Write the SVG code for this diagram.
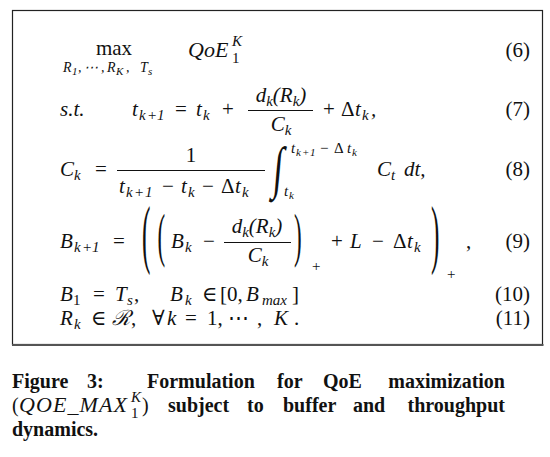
<svg xmlns="http://www.w3.org/2000/svg" width="550" height="457" viewBox="0 0 550 457">
<style>
text{fill:#111;font-family:"Liberation Serif","Times New Roman","DejaVu Serif",serif}
.i{font-style:italic;font-size:21px}
.r{font-size:21px}
.si{font-style:italic;font-size:15px}
.sr{font-size:15px}
.ti{font-style:italic;font-size:11px}
.tr{font-size:11px}
.cap{font-size:20px;font-weight:bold}
.capm{font-size:22px;font-style:italic}
.big{font-size:22px}
.mid{font-size:20px}
.int{font-size:32px}
.bar{stroke:#111;stroke-width:1}
</style>
<rect x="0" y="0" width="550" height="457" fill="#fff"/>
<g id="frame">
<rect x="12.5" y="10.5" width="530" height="334" fill="none" stroke="#222" stroke-width="1.2"/>
<line x1="12" y1="345" x2="543.5" y2="345" stroke="#555" stroke-width="2"/>
</g>
<g id="eq6">
<text class="r" x="114" y="55" text-anchor="middle">max</text>
<text class="si" y="72" style="font-size:14px"><tspan x="63">R</tspan><tspan class="tr" x="72" dy="3">1</tspan><tspan class="sr" x="78" dy="-3" style="font-size:14px">,</tspan><tspan class="sr" x="84" style="font-size:14px">⋯</tspan><tspan class="sr" x="101" style="font-size:14px">,</tspan><tspan x="107">R</tspan><tspan class="ti" x="116" dy="3">K</tspan><tspan class="sr" x="126" dy="-3" style="font-size:14px">,</tspan><tspan x="140">T</tspan><tspan class="ti" x="148" dy="3">s</tspan></text>
<text class="i" x="188" y="57" style="font-size:22px">QoE</text>
<text class="si" x="232" y="46">K</text>
<text class="sr" x="232" y="63">1</text>
<text class="r" x="530" y="57" text-anchor="end">(6)</text>
</g>
<g id="eq7">
<text class="i" x="60" y="116">s.t.</text>
<text class="i" x="132" y="116">t</text>
<text class="si" y="120"><tspan x="139">k</tspan><tspan class="sr" x="147">+</tspan><tspan class="sr" x="157">1</tspan></text>
<text class="r" x="175" y="116">=</text>
<text class="i" x="196" y="116">t</text>
<text class="si" x="203" y="120">k</text>
<text class="r" x="222" y="116">+</text>
<text class="i" x="281" y="102" text-anchor="middle">d<tspan class="si" dy="4">k</tspan><tspan class="r" dy="-4">(</tspan>R<tspan class="si" dy="4">k</tspan><tspan class="r" dy="-4">)</tspan></text>
<line class="bar" x1="248" y1="110.5" x2="313" y2="110.5"/>
<text class="i" x="281" y="131" text-anchor="middle">C<tspan class="si" dy="4">k</tspan></text>
<text class="r" x="323" y="116">+</text>
<text class="r" x="341" y="116">Δ</text>
<text class="i" x="355" y="116">t</text>
<text class="si" x="362" y="120">k</text>
<text class="i" x="371" y="116">,</text>
<text class="r" x="530" y="116" text-anchor="end">(7)</text>
</g>
<g id="eq8">
<text class="i" x="60" y="176">C</text>
<text class="si" x="74" y="180">k</text>
<text class="r" x="95" y="176">=</text>
<text class="r" x="191" y="162" text-anchor="middle">1</text>
<line class="bar" x1="117" y1="170.5" x2="265" y2="170.5"/>
<text class="i" x="119" y="193">t</text>
<text class="si" y="197"><tspan x="126">k</tspan><tspan class="sr" x="134">+</tspan><tspan class="sr" x="145">1</tspan></text>
<text class="r" x="162" y="193">−</text>
<text class="i" x="181" y="193">t</text>
<text class="si" x="188" y="197">k</text>
<text class="r" x="202" y="193">−</text>
<text class="r" x="221" y="193">Δ</text>
<text class="i" x="235" y="193">t</text>
<text class="si" x="242" y="197">k</text>
<text class="int" transform="translate(272,187) scale(1.1,1.8) skewX(-8)">∫</text>
<text class="si" x="291" y="153">t</text>
<text class="ti" y="156"><tspan x="296">k</tspan><tspan class="tr" x="302">+</tspan><tspan class="tr" x="310">1</tspan></text>
<text class="sr" x="320" y="153">−</text>
<text class="sr" x="334" y="153">Δ</text>
<text class="si" x="347" y="153">t</text>
<text class="ti" x="352" y="156">k</text>
<text class="si" x="284" y="196">t</text>
<text class="ti" x="289" y="199">k</text>
<text class="i" x="377" y="176">C</text>
<text class="si" x="391" y="180">t</text>
<text class="i" x="404" y="176">dt,</text>
<text class="r" x="530" y="176" text-anchor="end">(8)</text>
</g>
<g id="eq9">
<text class="i" x="60" y="248">B</text>
<text class="si" y="252"><tspan x="74">k</tspan><tspan class="sr" x="82">+</tspan><tspan class="sr" x="92">1</tspan></text>
<text class="r" x="113" y="248">=</text>
<text class="big" transform="translate(142,259) scale(1.15,3.43)">(</text>
<text class="mid" transform="translate(157.5,254.7) scale(1.15,2.94)">(</text>
<text class="i" x="171" y="248">B</text>
<text class="si" x="185" y="252">k</text>
<text class="r" x="203" y="248">−</text>
<text class="i" x="257" y="233" text-anchor="middle">d<tspan class="si" dy="4">k</tspan><tspan class="r" dy="-4">(</tspan>R<tspan class="si" dy="4">k</tspan><tspan class="r" dy="-4">)</tspan></text>
<line class="bar" x1="224" y1="242.5" x2="291" y2="242.5"/>
<text class="i" x="258" y="262" text-anchor="middle">C<tspan class="si" dy="4">k</tspan></text>
<text class="mid" transform="translate(294,254.7) scale(1.15,2.94)">)</text>
<text class="sr" x="312" y="271">+</text>
<text class="r" x="331" y="248">+</text>
<text class="i" x="350" y="248">L</text>
<text class="r" x="372" y="248">−</text>
<text class="r" x="393" y="248">Δ</text>
<text class="i" x="407" y="248">t</text>
<text class="si" x="414" y="252">k</text>
<text class="big" transform="translate(431,259) scale(1.15,3.43)">)</text>
<text class="sr" x="447" y="279">+</text>
<text class="r" x="466" y="248">,</text>
<text class="r" x="530" y="248" text-anchor="end">(9)</text>
</g>
<g id="eq10">
<text class="i" x="60" y="301">B</text>
<text class="sr" x="73" y="305">1</text>
<text class="r" x="93" y="301">=</text>
<text class="i" x="115" y="301">T</text>
<text class="si" x="127" y="305">s</text>
<text class="r" x="134" y="301">,</text>
<text class="i" x="170" y="301">B</text>
<text class="si" x="185" y="305">k</text>
<text class="r" x="202" y="301">∈</text>
<text class="r" x="220" y="301">[0,</text>
<text class="i" x="246" y="301">B</text>
<text class="si" x="262" y="305">max</text>
<text class="r" x="292" y="301">]</text>
<text class="r" x="530" y="301" text-anchor="end">(10)</text>
</g>
<g id="eq11">
<text class="i" x="60" y="325">R</text>
<text class="si" x="74" y="329">k</text>
<text class="r" x="91" y="325">∈</text>
<text class="i" x="112" y="325">ℛ</text>
<text class="r" x="131" y="325">,</text>
<text class="r" x="152" y="325">∀</text>
<text class="i" x="167" y="325">k</text>
<text class="r" x="185" y="325">=</text>
<text class="r" x="207" y="325">1,</text>
<text class="r" x="228" y="325">⋯</text>
<text class="r" x="257" y="325">,</text>
<text class="i" x="274" y="325">K</text>
<text class="r" x="294" y="325">.</text>
<text class="r" x="530" y="325" text-anchor="end">(11)</text>
</g>
<g id="caption">
<text class="cap" x="12" y="388">Figure</text>
<text class="cap" x="87" y="388">3:</text>
<text class="cap" x="147" y="388">Formulation</text>
<text class="cap" x="277" y="388">for</text>
<text class="cap" x="323" y="388">QoE</text>
<text class="cap" x="505" y="388" text-anchor="end">maximization</text>
<text class="r" x="12" y="412" style="font-size:20px">(</text>
<text class="capm" x="19" y="412" textLength="108">QOE_MAX</text>
<text class="si" x="131" y="402">K</text>
<text class="sr" x="131" y="418">1</text>
<text class="r" x="142" y="412" style="font-size:20px">)</text>
<text class="cap" x="168" y="412">subject</text>
<text class="cap" x="247" y="412">to</text>
<text class="cap" x="283" y="412">buffer</text>
<text class="cap" x="353" y="412">and</text>
<text class="cap" x="505" y="412" text-anchor="end">throughput</text>
<text class="cap" x="12" y="436">dynamics.</text>
</g>
</svg>
